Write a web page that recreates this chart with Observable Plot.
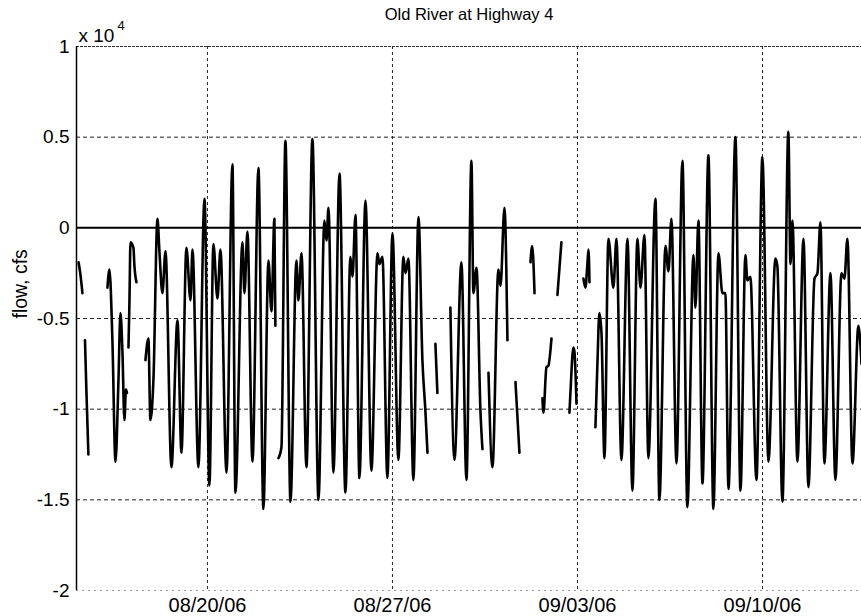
<!DOCTYPE html>
<html><head><meta charset="utf-8">
<script src="https://cdn.jsdelivr.net/npm/d3@7"></script>
<script src="https://cdn.jsdelivr.net/npm/@observablehq/plot@0.6"></script>
<style>
body{margin:0;background:#fff;}
#chart svg{font-family:"Liberation Sans",Arial,Helvetica,sans-serif;}
</style>
</head><body><div id="chart"></div>
<script>
// ---- chart text ----
const chartTitle = "Old River at Highway 4";
const yLabel = "flow, cfs";
const yExponentBase = "x 10";
const yExponent = "4";

// ---- time axis: hours since 2006-08-15 00:00 ----
const startTime = Date.UTC(2006, 7, 15, 0, 0);
const xRangeHours = [1.1, 713.9];
const xTickDays = ["2006-08-20", "2006-08-27", "2006-09-03", "2006-09-10"];
const yTicks = [-20000, -15000, -10000, -5000, 0, 5000, 10000];
const yDomain = [-20000, 10000];

// ---- series: hour offsets and flow (cfs); null marks a gap in the record ----
const hours = [
  3, 4.5, 6.5, null,
  8.8, 10.1, 11.9, null,
  29.2, 31, 33.7, 36.5, 39.2, 41, 42.8, 44.6, 46, 46.9, null,
  48.3, 49.2, 50.1, 52.8, 53.7, 55.5, null,
  63.7, 66.4, 68.2, 71, 74.6, 76.4, 79.1, 81.9, 87.3, 92.8, 96.4, 100.9, 104.6, 106.4, 111.8, 117.3,
  121.8, 125.4, 129.1, 131.8, 137.3, 142.7, 145.4, 151.8, 153.6, 156.3, 160.9, 166.3, 170.8, 175.4,
  178.1, 180.8, 181.7, null,
  184.5, 187.2, 190.8, 195.4, 200.8, 202.6, 205.4, 209.9, 215.3, 220.8, 226.2, 228.1, 229.9, 234.4,
  239.9, 245.3, 249.8, 251.7, 254.4, 258, 263.5, 268.9, 274.4, 276.2, 278.9, 283.4, 288, 293.4,
  297.9, 299.8, 302.5, 307, 311.6, 315.2, 317.9, 319.8, null,
  327, 328.8, null,
  340.6, 344.3, 350.6, 355.2, 359.7, 361.5, 364.3, 367.9, 369.7, null,
  375.2, 378.8, 384.2, 386.1, 389.7, 392.4, null,
  399.7, 403.3, null,
  413.3, 414.9, 417, null,
  424.2, 425.1, 427.8, 429.6, 432.4, null,
  437.8, 441.4, null,
  448.7, 449.6, 452.3, 453.2, 455.1, null,
  461.4, 463.2, 465, 466, 466.9, null,
  472.3, 474.1, 475.9, 477.8, 480.5, 484.1, 488.6, 491.4, 495.9, 501.4, 505.9, 510.4, 513.2, 516.8,
  520.4, 526.8, 530.4, 535.9, 538.6, 541.3, 545.9, 551.3, 555.8, 561.3, 563.1, 565.8, 569.5, 574.9,
  579.4, 584, 587.6, 590.3, 593.1, 599.4, 604, 608.5, 610.3, 613, 618.5, 623.9, 629.4, 635.7,
  637.5, 642.1, 647.5, 649.4, 651.2, 655.7, 661.2, 665.7, 671.2, 673.9, 676.6, 680.2, 685.7, 690.2,
  695.7, 698.4, 701.1, 705.7, 711.1, 713.9
];
const flow = [
  -1900, -2500, -3600, null,
  -6200, -9000, -12500, null,
  -3300, -2300, -6200, -12900, -8400, -4700, -6800, -10600, -8900, -9100, null,
  -6600, -4000, -800, -1100, -2100, -3000, null,
  -7300, -6100, -10600, -8300, 500, -1300, -3600, -1300, -13200, -5100, -12400, -1100, -4000, -1200, -13200, 1600,
  -14200, -900, -3900, -1200, -13500, 3500, -14600, -800, -3600, -200, -12900, 3300, -15500, -1800,
  -4600, 500, -5400, null,
  -12700, -12100, 4800, -15100, -1800, -4000, -1400, -13200, 4900, -15000, 400, -700, 1100, -13500,
  3000, -14600, -1600, -2700, 700, -13800, 1500, -13400, -1400, -2000, -1600, -13800, -300, -12800,
  -1600, -2500, -1700, -13900, 600, -7300, -10100, -12400, null,
  -6400, -9100, null,
  -4400, -12800, -1900, -13900, 3700, -3600, -2200, -10100, -12200, null,
  -8000, -13200, -2300, -3200, 1100, -6200, null,
  -8500, -12400, null,
  -1900, -1000, -3600, null,
  -9400, -10200, -7700, -7600, -6100, null,
  -3700, -800, null,
  -10200, -9100, -6600, -6800, -9700, null,
  -2800, -3300, -2000, -1200, -3000, null,
  -11000, -7500, -4700, -5800, -12700, -600, -3300, -600, -12800, -600, -14500, -600, -3300, -400,
  -12700, 1600, -15000, -1000, -2400, 500, -13000, 3700, -15400, -1500, -4400, 400, -14100, 4000,
  -15500, -1400, -3600, -3600, -14400, 5000, -14500, -1500, -2900, -2700, -13900, 3900, -12900, -1700,
  -2100, -15100, 5300, -2000, 400, -12900, -600, -14300, -2800, -2500, 300, -13000, -2500, -13900,
  -2500, -2800, -600, -13000, -5400, -7500
];

const toDate = h => h == null ? null : new Date(startTime + h * 3600e3);
const series = hours.map((h, i) => ({time: toDate(h), flow: flow[i]}));
const xDomain = xRangeHours.map(toDate);
const xTicks = xTickDays.map(d => new Date(d + "T00:00:00Z"));
const fmtDate = d3.utcFormat("%m/%d/%y");
const fmtY = v => String(v / 10000);
const font = "Liberation Sans, Arial, sans-serif";

const chart = Plot.plot({
  width: 861,
  height: 616,
  marginLeft: 76,
  marginRight: 0,
  marginTop: 46,
  marginBottom: 26,
  style: {fontFamily: font, fontSize: "18px", background: "white", color: "black", overflow: "visible"},
  x: {type: "utc", domain: xDomain},
  y: {domain: yDomain},
  marks: [
    Plot.ruleY(yTicks.filter(v => v !== 0 && v !== yDomain[0] && v !== yDomain[1]), {stroke: "#222", strokeWidth: 1, strokeDasharray: "4,3"}),
    Plot.ruleX(xTicks, {stroke: "#222", strokeWidth: 1, strokeDasharray: "3,3"}),
    Plot.ruleY([yDomain[0]], {stroke: "#999", strokeWidth: 1, strokeDasharray: "2,4"}),
    Plot.ruleY([yDomain[1]], {stroke: "#333", strokeWidth: 1, strokeDasharray: "3,1"}),
    Plot.ruleX([xDomain[0]], {stroke: "#000", strokeWidth: 1.5}),
    Plot.ruleY([0], {stroke: "#000", strokeWidth: 2}),
    Plot.line(series, {x: "time", y: "flow", stroke: "#000", strokeWidth: 2.6, curve: "monotone-x"}),
    Plot.axisY({ticks: yTicks, tickFormat: fmtY, tickSize: 0, tickPadding: 7, fontSize: 19, label: null}),
    Plot.axisX({ticks: xTicks, tickFormat: fmtDate, tickSize: 0, tickPadding: 7, fontSize: 20, label: null}),
    Plot.text([chartTitle], {frameAnchor: "top", dy: -32, fontSize: 16.5, lineAnchor: "middle"}),
    Plot.text([yExponentBase], {frameAnchor: "top-left", dx: 2, dy: -5, fontSize: 19, textAnchor: "start", lineAnchor: "bottom"}),
    Plot.text([yExponent], {frameAnchor: "top-left", dx: 41, dy: -17, fontSize: 13, textAnchor: "start", lineAnchor: "bottom"}),
    Plot.text([yLabel], {frameAnchor: "left", dx: -56, rotate: -90, fontSize: 19.5, lineAnchor: "middle"})
  ]
});
document.getElementById("chart").appendChild(chart);
</script>
</body></html>
